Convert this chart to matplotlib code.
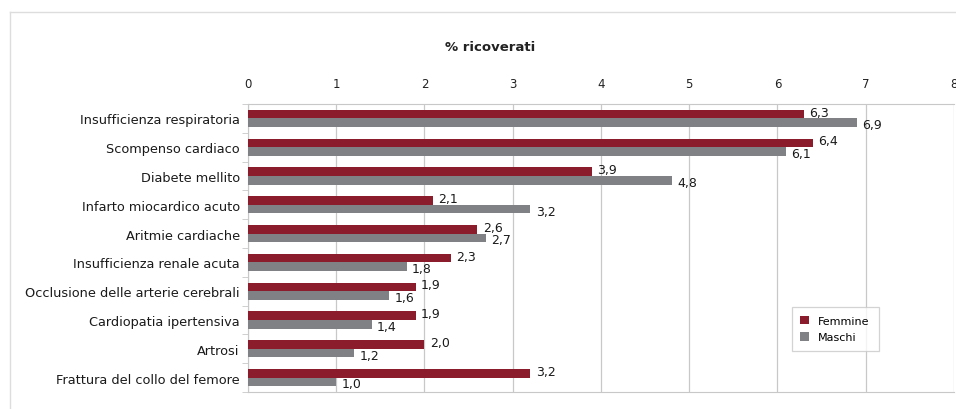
import numpy as np
import matplotlib.pyplot as plt
from matplotlib.lines import Line2D

categorie = ["Insufficienza respiratoria", "Scompenso cardiaco", "Diabete mellito",
             "Infarto miocardico acuto", "Aritmie cardiache", "Insufficienza renale acuta",
             "Occlusione delle arterie cerebrali", "Cardiopatia ipertensiva", "Artrosi",
             "Frattura del collo del femore"]
femmine = [6.3, 6.4, 3.9, 2.1, 2.6, 2.3, 1.9, 1.9, 2.0, 3.2]
maschi = [6.9, 6.1, 4.8, 3.2, 2.7, 1.8, 1.6, 1.4, 1.2, 1.0]

rosso = "#8b1c2c"
grigio = "#808184"
linea = "#c8c8c8"

fig = plt.figure(figsize=(9.56, 4.10), dpi=100)
ax = fig.add_axes([0.2594, 0.0415, 0.7385, 0.7024])

y = np.arange(len(categorie))
h = 0.3
ax.barh(y - h / 2, femmine, height=h, color=rosso, label="Femmine", zorder=3)
ax.barh(y + h / 2, maschi, height=h, color=grigio, label="Maschi", zorder=3)

for i in range(len(categorie)):
    ax.text(femmine[i] + 0.06, y[i] - h / 2 - 0.07, f"{femmine[i]:.1f}".replace(".", ","),
            va="center", ha="left", fontsize=9, color="#1a1a1a", zorder=4)
    ax.text(maschi[i] + 0.06, y[i] + h / 2 + 0.07, f"{maschi[i]:.1f}".replace(".", ","),
            va="center", ha="left", fontsize=9, color="#1a1a1a", zorder=4)

ax.set_xlim(0, 8)
ax.set_ylim(len(categorie) - 0.5, -0.5)
ax.set_xticks(range(9))
ax.xaxis.tick_top()
ax.tick_params(axis="x", length=0, pad=10, labelsize=8.5, colors="#222222")
ax.set_yticks(y)
ax.set_yticklabels(categorie, fontsize=9.3, color="#1a1a1a")
ax.set_yticks(np.arange(-0.5, len(categorie) + 0.5, 1), minor=True)
ax.tick_params(axis="y", which="major", length=0, pad=6)
ax.tick_params(axis="y", which="minor", length=4, color=linea)
ax.grid(axis="x", color=linea, linewidth=0.9, zorder=0)

for s in ["top", "left", "bottom"]:
    ax.spines[s].set_color(linea)
ax.spines["right"].set_visible(False)

fig.text(0.5126, 0.883, "% ricoverati", ha="center", va="center", fontsize=9.5,
         fontweight="bold", color="#222222")

leg = ax.legend(loc="lower left", bbox_to_anchor=(0.762, 0.122), fontsize=8,
                frameon=True, fancybox=False, edgecolor=linea, handlelength=0.8,
                handleheight=0.8, borderpad=0.8, labelspacing=0.6)
leg.get_frame().set_linewidth(0.9)

fig.add_artist(Line2D([0.0105, 1.0], [0.968, 0.968], color="#dddddd", linewidth=1,
                      transform=fig.transFigure))
fig.add_artist(Line2D([0.0105, 0.0105], [0.0, 0.968], color="#dddddd", linewidth=1,
                      transform=fig.transFigure))

fig.savefig("out.png", dpi=100)
